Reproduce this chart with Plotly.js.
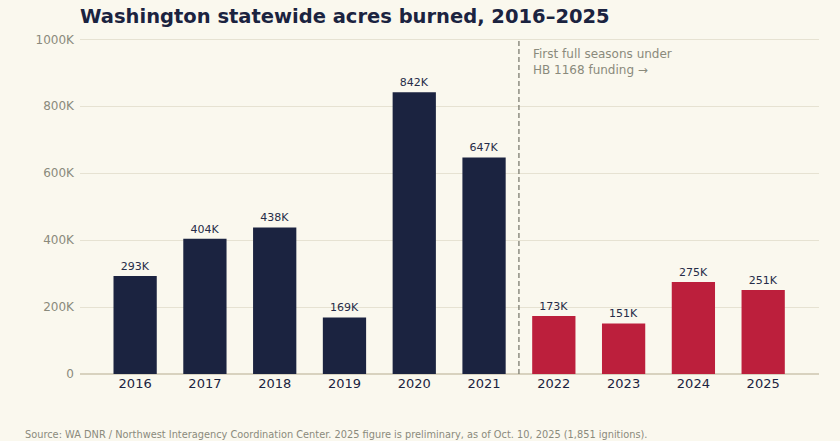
<!DOCTYPE html>
<html>
<head>
<meta charset="utf-8">
<script src="https://cdn.plot.ly/plotly-3.0.1.min.js"></script>
<style>
  html, body { margin: 0; padding: 0; background: #faf8ee; }
  #chart { width: 840px; height: 441px; }
</style>
</head>
<body>
<div id="chart"></div>
<script>
// acres burned per season
const years = ["2016", "2017", "2018", "2019", "2020", "2021", "2022", "2023", "2024", "2025"];
const acres = [293000, 404000, 438000, 169000, 842000, 647000, 173000, 151000, 275000, 251000];
const barLabels = ["293K", "404K", "438K", "169K", "842K", "647K", "173K", "151K", "275K", "251K"];
const fundedFrom = "2022";

const yTickVals = [0, 200000, 400000, 600000, 800000, 1000000];
const yTickText = ["0", "200K", "400K", "600K", "800K", "1000K"];

const NAVY = "#1b2340";
const RED = "#bc1f3c";
const GREY = "#8a8a7c";
const FONT = "DejaVu Sans, sans-serif";

const firstFunded = years.indexOf(fundedFrom);
const colors = years.map((y, i) => i >= firstFunded ? RED : NAVY);

const trace = {
    type: "bar",
    x: years.map((y, i) => i),
    y: acres,
    text: barLabels,
    textposition: "outside",
    cliponaxis: false,
    textfont: { family: FONT, size: 11, color: "#262c48" },
    marker: { color: colors },
    width: 0.62,
    hoverinfo: "skip"
};

const layout = {
    width: 840,
    height: 441,
    paper_bgcolor: "#faf8ee",
    plot_bgcolor: "#faf8ee",
    font: { family: FONT, color: NAVY },
    margin: { t: 36, r: 21, b: 67, l: 80 },
    showlegend: false,
    title: {
        text: "<b>Washington statewide acres burned, 2016–2025</b>",
        font: { family: FONT, size: 19.5, color: NAVY },
        x: 80 / 840,
        xanchor: "left",
        y: 1 - 16 / 441,
        yanchor: "middle"
    },
    xaxis: {
        range: [-0.79, 9.8],
        tickvals: years.map((y, i) => i),
        ticktext: years,
        tickfont: { family: FONT, size: 13, color: NAVY },
        showgrid: false,
        zeroline: false,
        showline: false,
        ticks: ""
    },
    yaxis: {
        // a little above 1000K so the top gridline is drawn, not dropped at the edge
        range: [0, 1010000],
        tickvals: yTickVals,
        ticktext: yTickText,
        tickfont: { family: FONT, size: 12, color: GREY },
        gridcolor: "#e6e2d2",
        gridwidth: 1,
        zeroline: true,
        zerolinecolor: "#d8d2bf",
        zerolinewidth: 1.2,
        showline: false,
        ticks: "",
        ticklabelstandoff: 5
    },
    shapes: [{
        type: "line",
        xref: "x",
        yref: "y",
        x0: firstFunded - 0.5,
        x1: firstFunded - 0.5,
        y0: 0,
        y1: 1000000,
        line: { color: "#7d7d70", width: 1.3, dash: "5px,3px" }
    }],
    annotations: [
        {
            xref: "x",
            yref: "y",
            x: firstFunded - 0.5 + 0.17,
            y: 982000,
            xanchor: "left",
            yanchor: "top",
            align: "left",
            showarrow: false,
            text: "First full seasons under<br>HB 1168 funding →",
            font: { family: FONT, size: 12, color: GREY }
        },
        {
            xref: "paper",
            yref: "paper",
            x: -57 / 739,
            y: -60 / 338,
            xanchor: "left",
            yanchor: "middle",
            showarrow: false,
            text: "Source: WA DNR / Northwest Interagency Coordination Center. 2025 figure is preliminary, as of Oct. 10, 2025 (1,851 ignitions).",
            font: { family: FONT, size: 9.8, color: GREY }
        }
    ]
};

Plotly.newPlot("chart", [trace], layout, { displayModeBar: false, staticPlot: true });
</script>
</body>
</html>
